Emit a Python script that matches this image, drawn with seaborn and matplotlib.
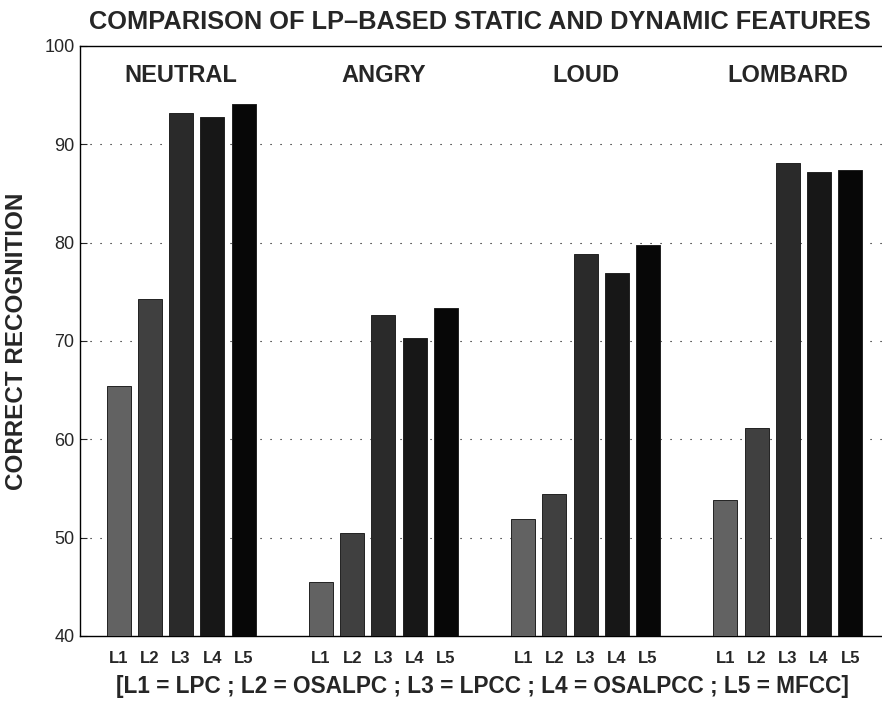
import matplotlib
matplotlib.use("Agg")
import matplotlib.pyplot as plt
import seaborn as sns
import pandas as pd

# Speaking styles (groups) and LP-based feature sets (bars within a group)
styles = ["NEUTRAL", "ANGRY", "LOUD", "LOMBARD"]
features = ["L1", "L2", "L3", "L4", "L5"]

# Correct recognition (%) per feature set, one list per speaking style
neutral = [65.4, 74.3, 93.2, 92.8, 94.1]
angry = [45.5, 50.5, 72.6, 70.3, 73.4]
loud = [51.9, 54.4, 78.8, 76.9, 79.8]
lombard = [53.8, 61.2, 88.1, 87.2, 87.4]

y_ticks = [40, 50, 60, 70, 80, 90, 100]
bar_colors = ["#626262", "#404040", "#2a2a2a", "#171717", "#070707"]

rows = []
for style, vals in zip(styles, [neutral, angry, loud, lombard]):
    for feat, v in zip(features, vals):
        rows.append({"style": style, "feature": feat, "recognition": v})
df = pd.DataFrame(rows)

sns.set_theme(style="white")
plt.rcParams["font.family"] = ["Liberation Sans", "DejaVu Sans"]
plt.rcParams["axes.edgecolor"] = "black"
plt.rcParams["axes.linewidth"] = 1.0

fig = plt.figure(figsize=(8.82, 7.04), dpi=100)
ax = fig.add_axes([80 / 882, 68 / 704, 809 / 882, 590 / 704])

sns.barplot(
    data=df, x="style", y="recognition", hue="feature",
    order=styles, hue_order=features, palette=bar_colors,
    width=0.772, gap=0.23, edgecolor="#222222", linewidth=0.7,
    saturation=1.0, legend=False, ax=ax, zorder=3,
)

ax.set_xlim(-0.5, 3.5)
ax.set_ylim(40, 100)
ax.set_yticks(y_ticks)
ax.set_yticklabels([str(t) for t in y_ticks], fontsize=13)

# dotted grid at the inner ticks only
for t in y_ticks[1:-1]:
    ax.axhline(t, color="black", linewidth=0.8, linestyle=(0, (1, 8)), zorder=1)

# one tick label under each bar
centers, names = [], []
for feat, cont in zip(features, ax.containers):
    for bar in cont:
        centers.append(bar.get_x() + bar.get_width() / 2)
        names.append(feat)
ax.set_xticks(centers)
ax.set_xticklabels(names, fontsize=12, fontweight="bold")
ax.tick_params(axis="x", length=0, pad=11)
ax.tick_params(axis="y", direction="in", length=5, width=0.8, pad=4, left=True)

for s in ["left", "bottom", "top"]:
    ax.spines[s].set_visible(True)
    ax.spines[s].set_color("black")
ax.spines["right"].set_visible(False)

# speaking-style names above each group
for i, style in enumerate(styles):
    ax.text(i, 97.0, style, ha="center", va="center",
            fontsize=17, fontweight="bold", zorder=4)

ax.set_xlabel("")
ax.set_ylabel("CORRECT RECOGNITION", fontsize=17.5, fontweight="bold")
ax.yaxis.set_label_coords(-0.064, 0.5)

fig.text(480 / 882, 1 - 22 / 704, "COMPARISON OF LP\u2013BASED STATIC AND DYNAMIC FEATURES",
         ha="center", va="center", fontsize=18.3, fontweight="bold")
fig.text(482 / 882, 1 - 687 / 704,
         "[L1 = LPC ; L2 = OSALPC ; L3 = LPCC ; L4 = OSALPCC ; L5 = MFCC]",
         ha="center", va="center", fontsize=16.3, fontweight="bold")

fig.savefig("out.png", dpi=100)
